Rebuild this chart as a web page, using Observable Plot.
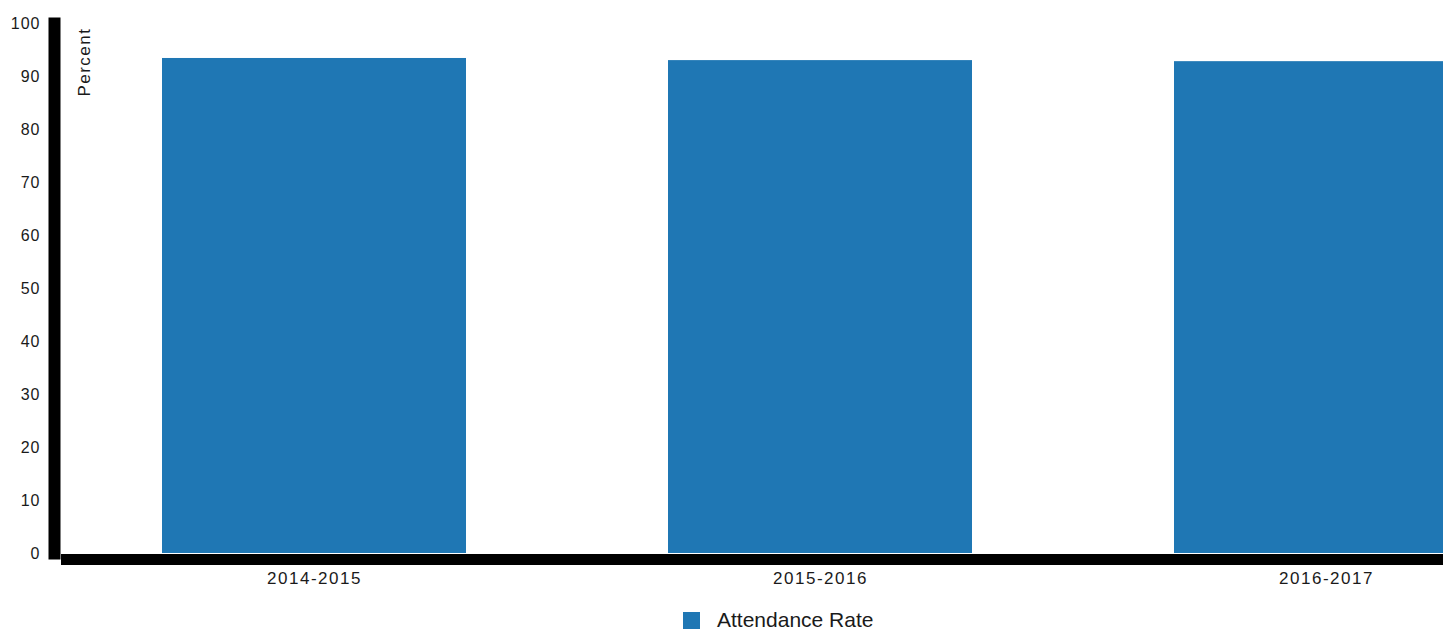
<!DOCTYPE html>
<html>
<head>
<meta charset="utf-8">
<script src="https://cdn.jsdelivr.net/npm/d3@7"></script>
<script src="https://cdn.jsdelivr.net/npm/@observablehq/plot@0.6"></script>
<style>
  html, body { margin: 0; padding: 0; background: #fff; }
  #wrap { position: relative; width: 1443px; height: 632px; overflow: hidden; }
  #chart svg text { fill: #1a1a1a; }
  #chart svg g[aria-label="x-axis tick label"] text { letter-spacing: 1.5px; font-size: 17px; }
  #chart svg g[aria-label="y-axis tick label"] text { letter-spacing: 1px; }
  #chart svg g[aria-label="text"] text { letter-spacing: 1.5px; }
  #legend { position: absolute; left: 683px; top: 607px; display: flex; align-items: center;
    font-family: "Liberation Sans", Arial, sans-serif; font-size: 21px; color: #1a1a1a; line-height: 26px; }
  #legend .sw { width: 17px; height: 17px; background: #1f77b4; margin-right: 17px; }
</style>
</head>
<body>
<div id="wrap">
  <div id="chart"></div>
  <div id="legend"><span class="sw"></span><span id="legendLabel"></span></div>
</div>
<script>
const years = ["2014-2015", "2015-2016", "2016-2017"];
const rates = [93.4, 93.0, 92.8];
const yTicks = [0, 10, 20, 30, 40, 50, 60, 70, 80, 90, 100];
const seriesName = "Attendance Rate";
const yLabel = "Percent";
const barColor = "#1f77b4";

const data = years.map((y, i) => ({year: y, rate: rates[i]}));

const chart = Plot.plot({
  width: 1443,
  height: 600,
  marginTop: 23,
  marginBottom: 47,
  marginLeft: 61,
  marginRight: -136,
  style: {fontFamily: "'Liberation Sans', Arial, sans-serif", fontSize: "16px", background: "white", overflow: "hidden"},
  x: {domain: years, paddingInner: 0.4, paddingOuter: 0.2},
  y: {domain: [0, 100]},
  marks: [
    Plot.barY(data, {x: "year", y: "rate", fill: barColor}),
    Plot.axisX({ticks: years, tickSize: 0, tickPadding: 18, label: null}),
    Plot.axisY({ticks: yTicks, tickSize: 0, tickPadding: 21, label: null}),
    Plot.frame({anchor: "left", stroke: "black", strokeWidth: 12, dx: -7}),
    Plot.ruleY([0], {stroke: "black", strokeWidth: 11, dy: 6}),
    Plot.text([yLabel], {frameAnchor: "top-left", text: d => d, rotate: -90, textAnchor: "end",
      dx: 16, dy: 4, fontSize: 17, fill: "#1a1a1a"})
  ]
});
document.getElementById("chart").appendChild(chart);
document.getElementById("legendLabel").textContent = seriesName;
</script>
</body>
</html>
